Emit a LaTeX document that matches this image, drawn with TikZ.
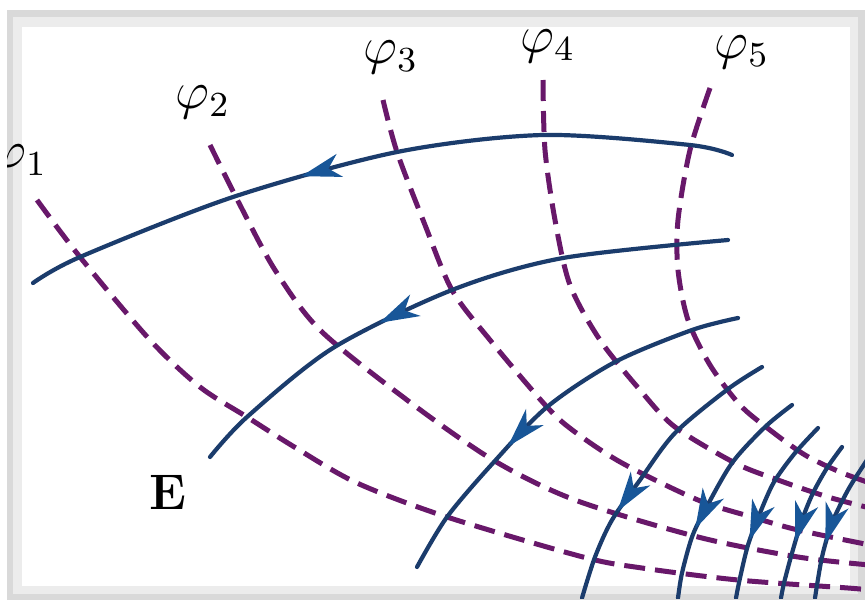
\documentclass[tikz,border=0pt]{standalone}
\usepackage{graphicx}
\usepackage{xcolor}
\usepackage{tikz}
\usetikzlibrary{decorations.markings}

\definecolor{fieldblue}{RGB}{27,60,108}
\definecolor{tipblue}{RGB}{24,86,152}
\definecolor{potpurple}{RGB}{104,24,106}
\newcommand{\potsym}[1]{\scalebox{4.4}{$\varphi_{#1}$}}

\begin{document}
\begin{tikzpicture}[
  x=1pt, y=-1pt,
  fieldline/.style = {
    draw=fieldblue, line width=4.2pt, line cap=round,
    postaction={decorate},
    decoration={markings,
      mark=at position #1 with {\fill[tipblue] (8,0) -- (-32,12) -- (-20,0) -- (-32,-12) -- cycle;}}
  },
  fieldline/.default = 0.6,
  equipot/.style = {
    draw=potpurple, line width=5pt, dash pattern=on 21pt off 10pt
  },
  potlabel/.style = {
    inner sep=0pt, font=\fontsize{12}{12}\selectfont
  }
]
\useasboundingbox (0,0) rectangle (865,600);
\fill[gray!30] (7,10) rectangle (865,600);
\fill[gray!15] (13,17) rectangle (858,594);
\fill[white] (22,27) rectangle (850,586);

\begin{scope}
\clip (7,10) rectangle (865,598);
\draw[equipot] plot[smooth] coordinates {(37,200) (80,257) (150,340) (200,387) (247,417) (296,448) (357,483) (447,517) (583,557) (642,568) (738,580) (848,588) (870,590)};
\draw[equipot] plot[smooth] coordinates {(210,145) (240,205) (275,270) (320,330) (407,400) (493,460) (575,500) (698,537) (798,557) (870,565)};
\draw[equipot] plot[smooth] coordinates {(383,100) (397,152) (425,225) (452,290) (490,340) (547,407) (575,432) (622,463) (698,500) (752,517) (798,530) (870,545)};
\draw[equipot] plot[smooth] coordinates {(543,80) (545,150) (555,220) (570,285) (600,340) (640,390) (675,427) (735,463) (778,480) (828,497) (870,508)};
\draw[equipot] plot[smooth] coordinates {(710,88) (690,150) (678,220) (678,270) (688,320) (710,365) (740,405) (770,430) (805,455) (840,472) (870,483)};

\draw[fieldline=0.59] plot[smooth] coordinates {(732,155) (690,145) (543,135) (397,152) (233,197) (80,257) (33,283)};
\draw[fieldline=0.61] plot[smooth] coordinates {(728,240) (563,258) (452,290) (333,348) (247,417) (210,457)};
\draw[fieldline=0.62] plot[smooth] coordinates {(738,318) (692,330) (615,362) (547,407) (493,463) (447,517) (417,567)};
\draw[fieldline=0.66] plot[smooth] coordinates {(762,367) (728,389) (675,433) (640,480) (612,520) (595,557) (582,598)};
\draw[fieldline=0.655] plot[smooth] coordinates {(792,405) (765,427) (732,463) (705,510) (692,537) (682,573) (678,598)};
\draw[fieldline=0.65] plot[smooth] coordinates {(818,428) (795,453) (774,482) (760,513) (748,545) (740,578) (736,598)};
\draw[fieldline=0.60] plot[smooth] coordinates {(842,447) (827,468) (813,493) (802,520) (792,553) (784,583) (781,598)};
\draw[fieldline=0.61] plot[smooth] coordinates {(875,448) (865,463) (848,490) (832,523) (822,557) (815,598)};

\node[potlabel] (phi1) at (20,161) {\potsym{1}};
\end{scope}

\node[potlabel] (phi2) at (203,102) {\potsym{2}};
\node[potlabel] (phi3) at (391,57) {\potsym{3}};
\node[potlabel] (phi4) at (548,46) {\potsym{4}};
\node[potlabel] (phi5) at (742,52) {\potsym{5}};
\node[potlabel, font=\fontsize{50}{50}\selectfont\bfseries] (field) at (168,492) {E};
\end{tikzpicture}
\end{document}
